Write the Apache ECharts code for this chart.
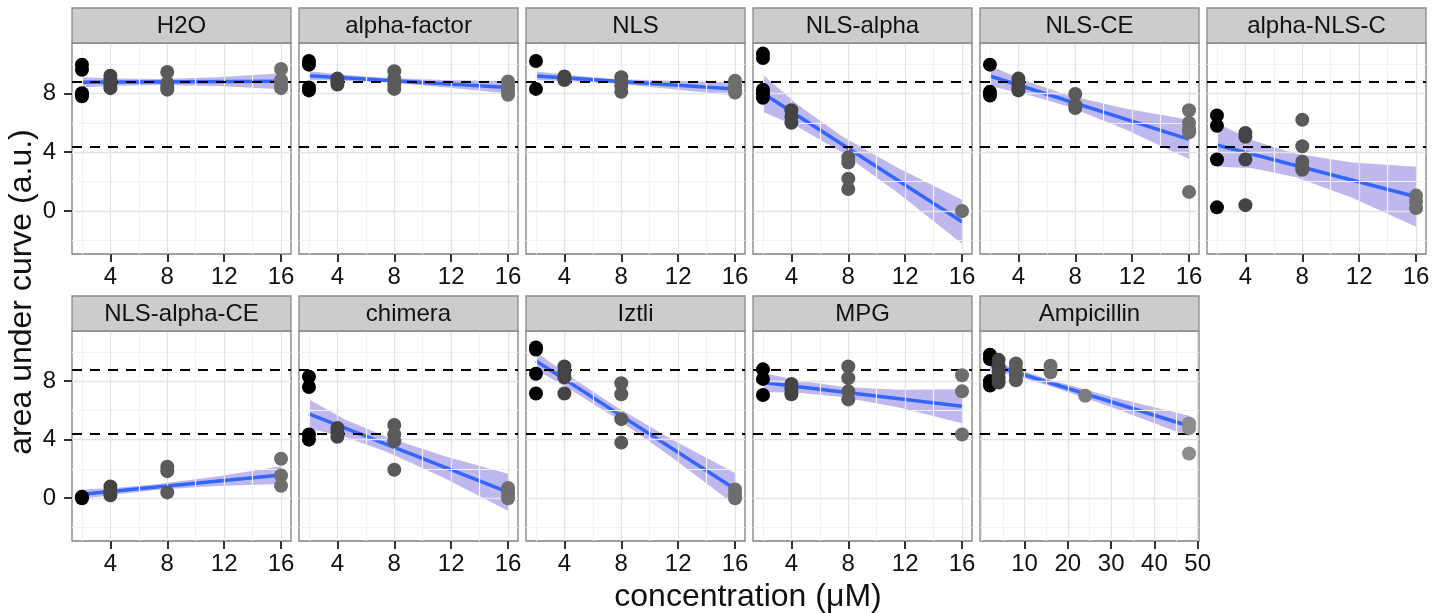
<!DOCTYPE html>
<html>
<head>
<meta charset="utf-8">
<script src="https://cdn.jsdelivr.net/npm/echarts@6/dist/echarts.min.js"></script>
<style>
html,body{margin:0;padding:0;background:#fff;}
#chart{width:1443px;height:613px;}
</style>
</head>
<body>
<div id="chart"></div>
<script>
// ---------------- data ----------------
const panelNames = ['H2O','alpha-factor','NLS','NLS-alpha','NLS-CE','alpha-NLS-C',
                    'NLS-alpha-CE','chimera','Iztli','MPG','Ampicillin'];

// points: [concentration, area under curve]
const ptsH2O = [[2,9.95],[2,9.6],[2,8.0],[2,7.8],[4,9.2],[4,8.9],[4,8.6],[4,8.35],[8,9.45],[8,8.7],[8,8.4],[8,8.25],[16,9.65],[16,8.9],[16,8.6],[16,8.35]];
const ptsAlphaFactor = [[2,10.2],[2,9.95],[2,8.4],[2,8.2],[4,9.0],[4,8.8],[4,8.6],[8,9.5],[8,9.0],[8,8.6],[8,8.3],[16,8.8],[16,8.5],[16,8.2],[16,7.9]];
const ptsNLS = [[2,10.2],[2,8.3],[4,9.15],[4,9.0],[4,8.9],[8,9.1],[8,8.8],[8,8.5],[8,8.1],[16,8.85],[16,8.5],[16,8.2],[16,8.05]];
const ptsNLSalpha = [[2,10.7],[2,10.4],[2,8.25],[2,8.0],[2,7.7],[4,6.85],[4,6.4],[4,6.0],[8,3.65],[8,3.3],[8,2.2],[8,1.5],[16,0.0]];
const ptsNLSCE = [[2,9.95],[2,8.1],[2,7.85],[4,9.0],[4,8.7],[4,8.4],[4,8.2],[8,7.95],[8,7.2],[8,7.0],[16,6.85],[16,6.0],[16,5.6],[16,5.35],[16,1.3]];
const ptsAlphaNLSC = [[2,6.5],[2,5.8],[2,3.5],[2,0.25],[4,5.3],[4,5.05],[4,3.5],[4,0.4],[8,6.2],[8,4.4],[8,3.35],[8,3.0],[8,2.8],[16,1.05],[16,0.65],[16,0.2]];
const ptsNLSalphaCE = [[2,0.1],[2,0.0],[4,0.8],[4,0.5],[4,0.2],[8,2.15],[8,1.85],[8,0.4],[16,2.7],[16,1.55],[16,0.85]];
const ptsChimera = [[2,8.3],[2,7.6],[2,4.35],[2,4.0],[4,4.8],[4,4.5],[4,4.2],[8,5.0],[8,4.35],[8,3.9],[8,1.95],[16,0.7],[16,0.35],[16,0.0]];
const ptsIztli = [[2,10.3],[2,10.15],[2,8.5],[2,7.15],[4,9.0],[4,8.6],[4,8.25],[4,7.15],[8,7.85],[8,7.1],[8,5.4],[8,3.8],[16,0.6],[16,0.3],[16,0.0]];
const ptsMPG = [[2,8.8],[2,8.15],[2,7.05],[4,7.8],[4,7.45],[4,7.1],[8,9.0],[8,8.2],[8,7.3],[8,6.75],[16,8.4],[16,7.3],[16,4.35]];
const ptsAmpicillin = [[2,9.8],[2,9.5],[2,8.0],[2,7.7],[4,9.45],[4,9.0],[4,8.6],[4,8.2],[4,7.9],[8,9.2],[8,8.8],[8,8.4],[8,8.05],[16,9.05],[16,8.6],[24,7.0],[48,5.1],[48,4.8],[48,3.05]];

// fitted line ends: [x, y]
const fitH2O = [[2,8.75],[16,8.82]];
const fitAlphaFactor = [[2,9.2],[16,8.4]];
const fitNLS = [[2,9.18],[16,8.3]];
const fitNLSalpha = [[2,8.0],[16,-0.73]];
const fitNLSCE = [[2,9.18],[16,4.87]];
const fitAlphaNLSC = [[2,4.49],[16,0.97]];
const fitNLSalphaCE = [[2,0.27],[16,1.58]];
const fitChimera = [[2,5.76],[16,0.41]];
const fitIztli = [[2,9.38],[16,0.63]];
const fitMPG = [[2,7.91],[16,6.28]];
const fitAmpicillin = [[2,9.15],[48,4.93]];

// confidence band: [x, lower, upper]
const bandH2O = [[2,8.40,9.10],[4.5,8.51,9.01],[7.5,8.57,8.97],[11.5,8.49,9.09],[16,8.27,9.37]];
const bandAlphaFactor = [[2,8.90,9.50],[4.5,8.86,9.26],[7.5,8.74,9.04],[11.5,8.41,8.91],[16,7.98,8.82]];
const bandNLS = [[2,8.88,9.48],[4.5,8.82,9.22],[7.5,8.67,8.97],[11.5,8.29,8.85],[16,7.85,8.75]];
const bandNLSalpha = [[2,6.75,9.25],[4.5,5.69,7.19],[7.5,4.02,5.12],[11.5,1.23,2.93],[16,-2.23,0.77]];
const bandNLSCE = [[2,8.48,9.88],[4.5,7.96,8.86],[7.5,7.11,7.87],[11.5,5.56,6.96],[16,3.54,6.20]];
const bandAlphaNLSC = [[2,3.02,5.96],[4.5,2.91,4.81],[7.5,2.31,3.91],[11.5,0.90,3.30],[16,-1.07,3.01]];
const bandNLSalphaCE = [[2,-0.06,0.60],[4.5,0.28,0.72],[7.5,0.59,0.99],[11.5,0.84,1.48],[16,0.98,2.18]];
const bandChimera = [[2,4.76,6.76],[4.5,4.20,5.40],[7.5,3.16,4.16],[11.5,1.38,2.88],[16,-0.86,1.68]];
const bandIztli = [[2,8.78,9.98],[4.5,7.37,8.27],[7.5,5.54,6.34],[11.5,2.84,4.04],[16,-0.47,1.73]];
const bandMPG = [[2,7.26,8.56],[4.5,7.20,8.04],[7.5,6.92,7.62],[11.5,6.21,7.41],[16,5.12,7.44]];
const bandAmpicillin = [[2,8.75,9.55],[8,8.35,8.85],[16,7.65,8.09],[30,6.23,6.93],[48,4.23,5.63]];

// reference (dashed) levels
const refLevels = [8.78, 4.39];

// axis ticks
const xTicks = [4, 8, 12, 16];
const xMinor = [2, 6, 10, 14];
const xTicksAmp = [10, 20, 30, 40, 50];
const xMajorAmp = [0, 10, 20, 30, 40, 50];
const xMinorAmp = [5, 15, 25, 35, 45];
const yTicks = [0, 4, 8];
const yMinor = [-2, 2, 6, 10];

const allPts = [ptsH2O, ptsAlphaFactor, ptsNLS, ptsNLSalpha, ptsNLSCE, ptsAlphaNLSC,
                ptsNLSalphaCE, ptsChimera, ptsIztli, ptsMPG, ptsAmpicillin];
const allFit = [fitH2O, fitAlphaFactor, fitNLS, fitNLSalpha, fitNLSCE, fitAlphaNLSC,
                fitNLSalphaCE, fitChimera, fitIztli, fitMPG, fitAmpicillin];
const allBand = [bandH2O, bandAlphaFactor, bandNLS, bandNLSalpha, bandNLSCE, bandAlphaNLSC,
                 bandNLSalphaCE, bandChimera, bandIztli, bandMPG, bandAmpicillin];

// ---------------- styles / layout ----------------
const FONT = '"Liberation Sans", Arial, sans-serif';
const concColor = {2:'#000000', 4:'#444444', 8:'#5a5a5a', 16:'#6e6e6e', 24:'#7c7c7c', 48:'#8c8c8c'};
const colLeft0 = 72, colStep = 227, panelW = 219;
const plotTop = [43, 331], plotH = [211, 210];
const stripTop = [8, 296], stripH = 35;
const yMin = -2.92, yMax = 11.42;

const grids = [], xAxes = [], yAxes = [], series = [], graphics = [];

panelNames.forEach((name, k) => {
  const row = Math.floor(k / 6), col = k % 6;
  const left = colLeft0 + col * colStep;
  const isAmp = name === 'Ampicillin';
  const xmin = isAmp ? -0.3 : 1.3, xmax = isAmp ? 50.3 : 16.7;
  const ticks = isAmp ? xTicksAmp : xTicks;
  const majX = isAmp ? xMajorAmp : xTicks;
  const minX = isAmp ? xMinorAmp : xMinor;

  grids.push({left: left, top: plotTop[row], width: panelW, height: plotH[row],
              show: true, backgroundColor: '#ffffff', borderColor: '#7f7f7f', borderWidth: 1.3});

  xAxes.push({gridIndex: k, type: 'value', min: xmin, max: xmax, position: 'bottom',
    axisLine: {show: false, onZero: false}, splitLine: {show: false},
    axisTick: {show: true, inside: false, customValues: ticks, length: 8, lineStyle: {color: '#333333', width: 2}},
    axisLabel: {show: true, customValues: ticks, fontSize: 24, color: '#111', fontFamily: FONT, margin: 11}
  });
  const firstCol = col === 0;
  yAxes.push({gridIndex: k, type: 'value', min: yMin, max: yMax, position: 'left',
    axisLine: {show: false, onZero: false}, splitLine: {show: false},
    axisTick: {show: firstCol, inside: false, customValues: yTicks, length: 8, lineStyle: {color: '#333333', width: 2}},
    axisLabel: {show: firstCol, customValues: yTicks, fontSize: 24, color: '#111', fontFamily: FONT, margin: 16}
  });

  // grid lines + dashed reference lines
  const gl = [];
  minX.forEach(v => gl.push({xAxis: v, lineStyle: {color: '#f2f2f2', width: 1.2, type: 'solid'}}));
  yMinor.forEach(v => gl.push({yAxis: v, lineStyle: {color: '#f2f2f2', width: 1.2, type: 'solid'}}));
  majX.forEach(v => gl.push({xAxis: v, lineStyle: {color: '#e3e3e3', width: 1.3, type: 'solid'}}));
  yTicks.forEach(v => gl.push({yAxis: v, lineStyle: {color: '#e3e3e3', width: 1.3, type: 'solid'}}));
  series.push({type: 'scatter', xAxisIndex: k, yAxisIndex: k, data: allPts[k], symbolSize: 0,
    silent: true, z: 1,
    markLine: {silent: true, symbol: 'none', label: {show: false}, animation: false, data: gl}});
  series.push({type: 'scatter', xAxisIndex: k, yAxisIndex: k, data: allPts[k], symbolSize: 0,
    silent: true, z: 2,
    markLine: {silent: true, symbol: 'none', label: {show: false}, animation: false,
      data: refLevels.map(v => ({yAxis: v, lineStyle: {color: '#000', width: 2.2, type: [10, 8]}}))}});

  // confidence band
  const band = allBand[k];
  series.push({type: 'custom', xAxisIndex: k, yAxisIndex: k, data: band, z: 3, silent: true,
    encode: {x: 0, y: [1, 2]},
    renderItem: (params, api) => {
      if (params.dataIndex !== 0) return null;
      const pts = [];
      band.forEach(b => pts.push(api.coord([b[0], b[2]])));
      band.slice().reverse().forEach(b => pts.push(api.coord([b[0], b[1]])));
      return {type: 'polygon', shape: {points: pts}, style: {fill: 'rgba(112,98,218,0.45)'}};
    }
  });
  // fitted line
  series.push({type: 'line', xAxisIndex: k, yAxisIndex: k, data: allFit[k], symbol: 'none', z: 4,
    silent: true, lineStyle: {color: '#3366FF', width: 3.5}});
  // points
  series.push({type: 'scatter', xAxisIndex: k, yAxisIndex: k, data: allPts[k], symbolSize: 14, z: 5,
    silent: true, itemStyle: {color: p => concColor[p.value[0]], opacity: 1}});

  // strip
  graphics.push({type: 'rect', shape: {x: left, y: stripTop[row], width: panelW, height: stripH},
    style: {fill: '#cccccc', stroke: '#8a8a8a', lineWidth: 1.3}, z: 10});
  graphics.push({type: 'text', x: left + panelW / 2, y: stripTop[row] + stripH / 2 + 1,
    style: {text: name, fill: '#111', font: '24px ' + FONT, align: 'center', verticalAlign: 'middle'}, z: 11});
});

// axis titles
graphics.push({type: 'text', x: 748, y: 597,
  style: {text: 'concentration (\u03bcM)', fill: '#111', font: '32px ' + FONT, align: 'center', verticalAlign: 'middle'}});
graphics.push({type: 'text', x: 22, y: 292, rotation: Math.PI / 2,
  style: {text: 'area under curve (a.u.)', fill: '#111', font: '32px ' + FONT, align: 'center', verticalAlign: 'middle'}});

const chart = echarts.init(document.getElementById('chart'), null, {renderer: 'canvas'});
chart.setOption({
  animation: false,
  backgroundColor: '#ffffff',
  grid: grids, xAxis: xAxes, yAxis: yAxes, series: series, graphic: graphics
});
</script>
</body>
</html>
